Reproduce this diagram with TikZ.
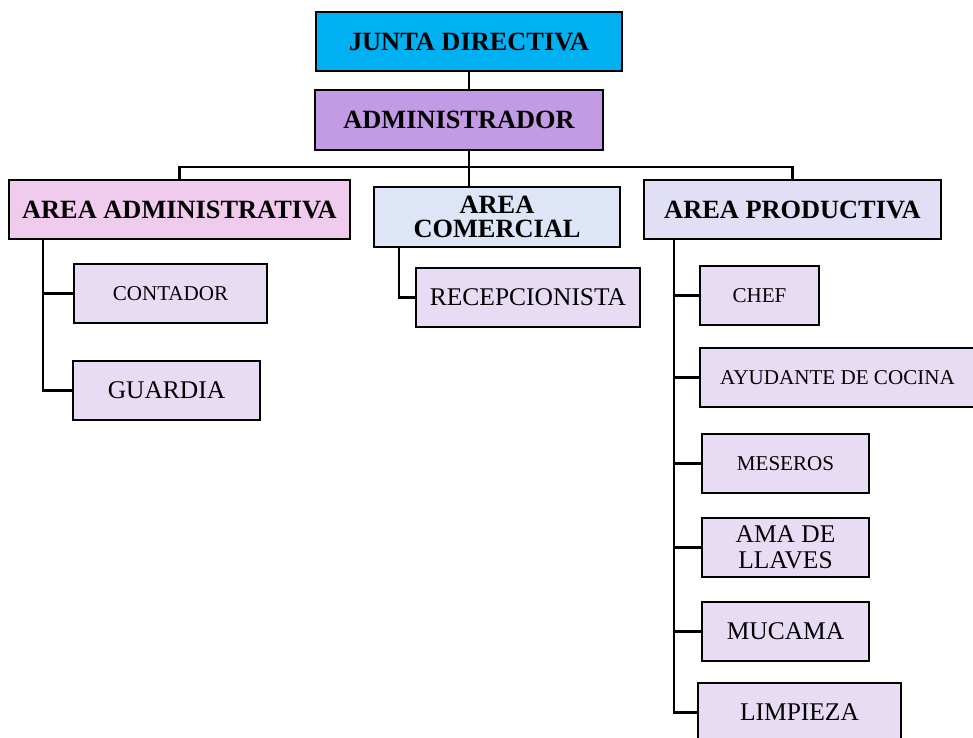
\documentclass[tikz,border=0pt]{standalone}
\usepackage{fontspec}
\setmainfont{Liberation Serif}
\definecolor{juntafill}{HTML}{00B0F0}
\definecolor{adminfill}{HTML}{C39BE5}
\definecolor{aafill}{HTML}{F0CBEE}
\definecolor{acfill}{HTML}{DEE5F7}
\definecolor{apfill}{HTML}{E1DFF6}
\definecolor{subfill}{HTML}{E8DCF4}

\begin{document}
\begin{tikzpicture}[line width=1.4pt,
    box/.style={draw, rectangle, inner sep=0pt, minimum height=1.18cm, align=center},
    head/.style={box, font=\fontsize{15}{14}\selectfont\bfseries},
    sub/.style={box, fill=subfill, font=\fontsize{14.5}{15}\selectfont},
    subsm/.style={sub, font=\fontsize{12}{14}\selectfont}]
    \useasboundingbox (0,0) rectangle (19.46,-14.76);
    \node[head, fill=juntafill, minimum width=6.12cm] (jd) at (9.38,-0.83) {JUNTA DIRECTIVA};
    \node[head, fill=adminfill, minimum width=5.76cm, minimum height=1.2cm] (adm) at (9.18,-2.4) {ADMINISTRADOR};
    \node[head, fill=aafill, minimum width=6.82cm] (aa) at (3.59,-4.19) {AREA ADMINISTRATIVA};
    \node[head, fill=acfill, minimum width=4.92cm, minimum height=1.2cm] (ac) at (9.94,-4.34) {AREA\\COMERCIAL};
    \node[head, fill=apfill, minimum width=5.94cm] (ap) at (15.85,-4.19) {AREA PRODUCTIVA};

    \node[subsm, minimum width=3.86cm] (cont) at (3.41,-5.87) {CONTADOR};
    \node[sub, minimum width=3.74cm] (guard) at (3.33,-7.81) {GUARDIA};
    \node[sub, minimum width=4.48cm] (recep) at (10.56,-5.95) {RECEPCIONISTA};
    \node[subsm, minimum width=2.38cm] (chef) at (15.19,-5.91) {CHEF};
    \node[subsm, minimum width=5.5cm] (ayud) at (16.75,-7.55) {AYUDANTE DE COCINA};
    \node[subsm, minimum width=3.34cm] (mes) at (15.71,-9.27) {MESEROS};
    \node[sub, minimum width=3.34cm] (ama) at (15.71,-10.95) {AMA DE\\LLAVES};
    \node[sub, minimum width=3.34cm] (muc) at (15.71,-12.63) {MUCAMA};
    \node[sub, minimum width=4.06cm] (limp) at (15.99,-14.25) {LIMPIEZA};

    \coordinate (bar) at (0,-3.34);
    \coordinate (aasp) at (0.86,-4.78);
    \coordinate (acsp) at (7.98,-4.94);
    \coordinate (apsp) at (13.48,-4.78);

    \draw (jd.south) -- (jd.south |- adm.north);
    \draw (jd.south |- adm.south) -- (jd.south |- ac.north);
    \draw (aa.north) -- (aa.north |- bar) -- (ap.north |- bar) -- (ap.north);
    \draw (aasp) |- (cont.west);
    \draw (aasp) |- (guard.west);
    \draw (acsp) |- (recep.west);
    \foreach \n in {chef,ayud,mes,ama,muc,limp}
        \draw (apsp) |- (\n.west);
\end{tikzpicture}
\end{document}
